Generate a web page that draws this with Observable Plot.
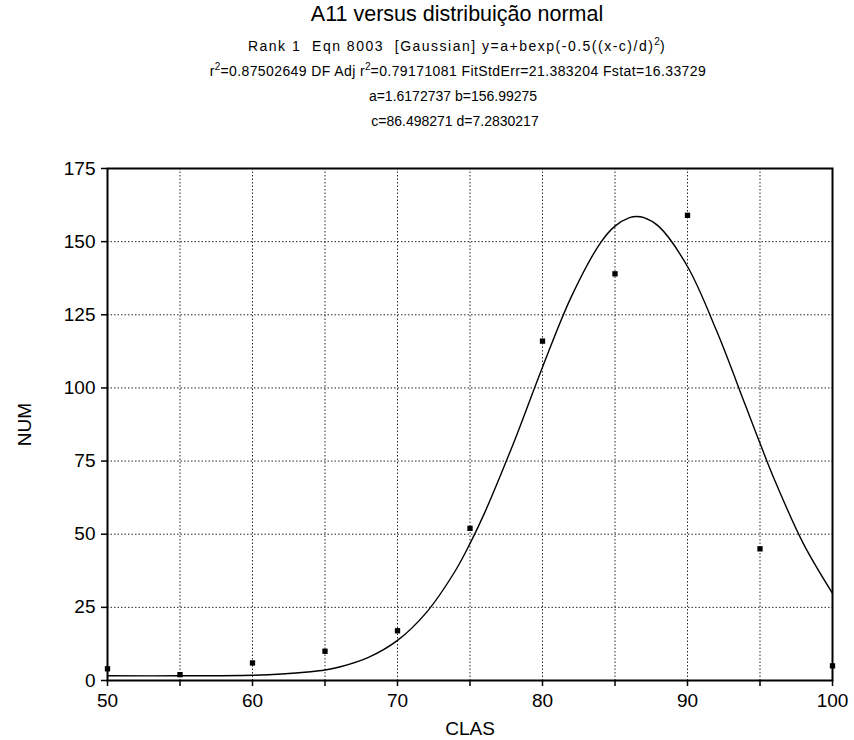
<!DOCTYPE html>
<html>
<head>
<meta charset="utf-8">
<script src="https://cdn.jsdelivr.net/npm/d3@7"></script>
<script src="https://cdn.jsdelivr.net/npm/@observablehq/plot@0.6"></script>
<style>
  body { margin: 0; background: #fff; font-family: "Liberation Sans", Arial, sans-serif; }
  #wrap { position: relative; width: 854px; height: 740px; }
  #head { position: absolute; left: 0; top: 0; width: 854px; height: 150px; color: #000; }
  .t { position: absolute; left: 0; width: 854px; text-align: center; white-space: pre; box-sizing: border-box; }
  #title { top: 1px; font-size: 21.5px; line-height: 26px; padding-left: 60px; }
  .s { font-size: 14px; line-height: 20px; padding-left: 60px; }
  sup { font-size: 10px; vertical-align: 6px; line-height: 0; letter-spacing: 0; }
  #chart { position: absolute; left: 0; top: 150px; }
</style>
</head>
<body>
<div id="wrap">
  <div id="head">
    <div class="t" id="title">A11 versus distribuição normal</div>
    <div class="t s" style="top:36px; letter-spacing:1.5px">Rank 1  Eqn 8003  [Gaussian] y=a+bexp(-0.5((x-c)/d)<sup>2</sup>)</div>
    <div class="t s" style="top:61px; letter-spacing:0.4px; padding-left:62px">r<sup>2</sup>=0.87502649 DF Adj r<sup>2</sup>=0.79171081 FitStdErr=21.383204 Fstat=16.33729</div>
    <div class="t s" style="top:86px; padding-left:52px">a=1.6172737 b=156.99275</div>
    <div class="t s" style="top:111px; padding-left:56px">c=86.498271 d=7.2830217</div>
  </div>
  <div id="chart"></div>
</div>
<script>
// Observed points (CLAS, NUM)
const clas = [50, 55, 60, 65, 70, 75, 80, 85, 90, 95, 100];
const num  = [4, 2, 6, 10, 17, 52, 116, 139, 159, 45, 5];

// Fitted curve
const curveX = [50, 55, 60, 62, 64, 65, 66, 68, 70, 72, 74, 75, 76, 78, 80, 82, 84, 85, 86, 86.5, 87, 88, 90, 92, 94, 95, 96, 98, 100];
const curveY = [1.6, 1.6, 1.8, 2.2, 3.0, 3.6, 4.6, 7.9, 13.7, 23.3, 37.6, 46.8, 57.2, 81.1, 107.1, 131.3, 149.6, 155.3, 158.2, 158.6, 158.2, 155.3, 141.5, 119.6, 94.0, 81.1, 68.6, 46.7, 29.8];

const xTicks = [50, 55, 60, 65, 70, 75, 80, 85, 90, 95, 100];
const yTicks = [0, 25, 50, 75, 100, 125, 150, 175];

const pts = clas.map((x, i) => ({x, y: num[i]}));
const fit = curveX.map((x, i) => ({x, y: curveY[i]}));

const chart = Plot.plot({
  width: 854,
  height: 590,
  marginTop: 18,
  marginBottom: 60,
  marginLeft: 107,
  marginRight: 22,
  style: {fontFamily: "'Liberation Sans', Arial, sans-serif", fontSize: "19px", color: "#000", background: "transparent"},
  x: {domain: [50, 100]},
  y: {domain: [0, 175]},
  marks: [
    Plot.gridX(xTicks, {stroke: "#000", strokeOpacity: 0.85, strokeDasharray: "1.5,2"}),
    Plot.gridY(yTicks, {stroke: "#000", strokeOpacity: 0.85, strokeDasharray: "1.5,2"}),
    Plot.axisX(xTicks, {tickSize: 6, tickPadding: 7, tickFormat: d => d % 10 === 0 ? d : "", label: "CLAS", labelAnchor: "center", labelArrow: "none", labelOffset: 54, fontSize: 19, strokeWidth: 1.5}),
    Plot.axisY(yTicks, {tickSize: 6, tickPadding: 6, label: "NUM", labelAnchor: "center", labelArrow: "none", labelOffset: 90, fontSize: 19, strokeWidth: 1.5}),
    Plot.frame({stroke: "#000", strokeWidth: 2}),
    Plot.line(fit, {x: "x", y: "y", curve: "catmull-rom", stroke: "#000", strokeWidth: 1.4}),
    Plot.dot(pts, {x: "x", y: "y", symbol: "square", r: 3, fill: "#000", stroke: "none"})
  ]
});
document.getElementById("chart").appendChild(chart);
</script>
</body>
</html>
